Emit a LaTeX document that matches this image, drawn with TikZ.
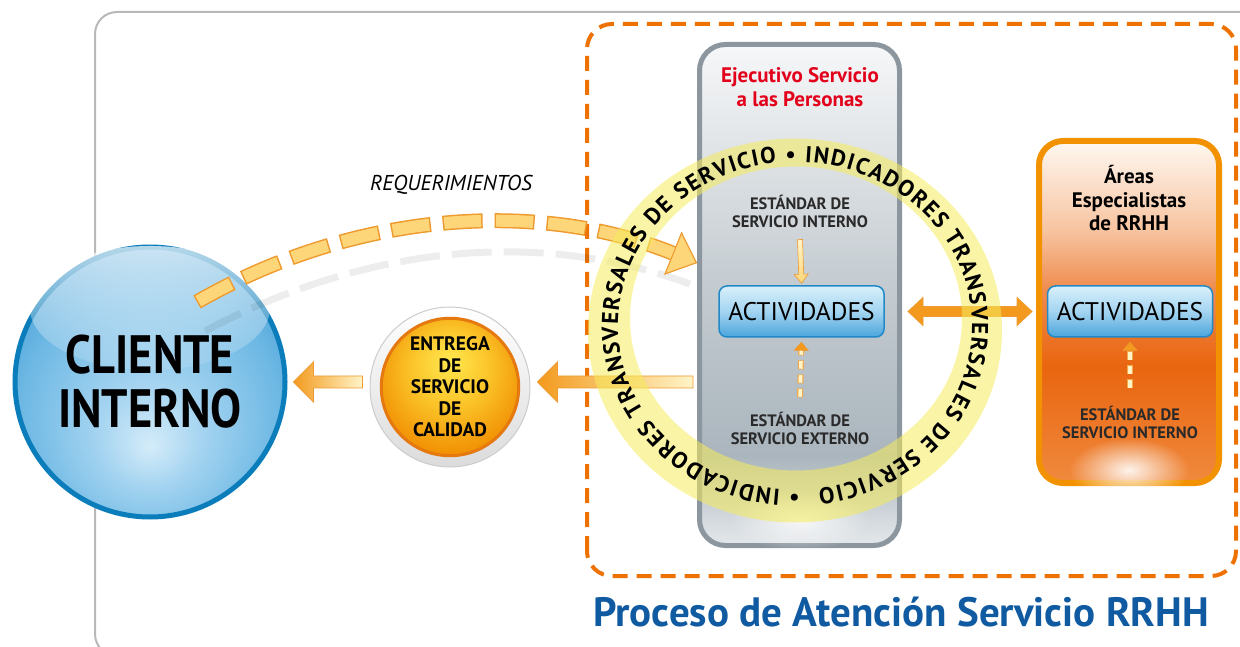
\documentclass[tikz,border=0pt]{standalone}
\usepackage{fontspec}
\setmainfont{PT Sans}
\newfontfamily\narrowsans[FakeStretch=0.86]{PT Sans}
\usetikzlibrary{calc,arrows.meta,decorations.text,fadings}

\definecolor{framegray}{HTML}{B8B8B8}
\definecolor{frameorange}{HTML}{EE7203}
\definecolor{ejeborder}{HTML}{8C969E}
\definecolor{ejetop}{HTML}{F6F7F8}
\definecolor{ejemid}{HTML}{C6CDD2}
\definecolor{ejelow}{HTML}{AAB5BD}
\definecolor{ejebot}{HTML}{E4E8EB}
\definecolor{ejered}{HTML}{E2001A}
\definecolor{areborder}{HTML}{F39200}
\definecolor{aretop}{HTML}{FFF8F1}
\definecolor{arepeach}{HTML}{F7C4A0}
\definecolor{areorange}{HTML}{EF8A4C}
\definecolor{aremid}{HTML}{E9650F}
\definecolor{arebot}{HTML}{F08A3E}
\definecolor{actborder}{HTML}{2189C8}
\definecolor{acttop}{HTML}{D9F0FB}
\definecolor{actmid}{HTML}{A3D4F1}
\definecolor{actbot}{HTML}{4BA5DC}
\definecolor{cliborder}{HTML}{0B7DBB}
\definecolor{clilight}{HTML}{D4ECF9}
\definecolor{clisoft}{HTML}{A3D3F0}
\definecolor{climid}{HTML}{6DB8E4}
\definecolor{clidark}{HTML}{3493CF}
\definecolor{entlight}{HTML}{FFE84F}
\definecolor{entmid}{HTML}{FBC52A}
\definecolor{entdark}{HTML}{F08C00}
\definecolor{entborder}{HTML}{E5780F}
\definecolor{arrowtip}{HTML}{F39A1E}
\definecolor{arrowtail}{HTML}{FFF4C8}
\definecolor{arrowline}{HTML}{EE9A2E}
\definecolor{dashfill}{HTML}{FDD67A}
\definecolor{ringyellow}{HTML}{F6EC5C}
\definecolor{labelgray}{HTML}{2A2A2A}
\definecolor{titleblue}{HTML}{0F5AA0}

\pgfdeclareverticalshading{ejeshade}{100bp}{color(0bp)=(ejebot); color(25bp)=(ejebot); color(34bp)=(ejelow); color(52bp)=(ejemid); color(75bp)=(ejetop); color(100bp)=(ejetop)}
\pgfdeclareverticalshading{areshade}{100bp}{color(0bp)=(arebot); color(25bp)=(arebot); color(42bp)=(aremid); color(53bp)=(areorange); color(62bp)=(arepeach); color(75bp)=(aretop); color(100bp)=(aretop)}
\pgfdeclareradialshading{clishade}{\pgfpoint{0bp}{-12bp}}{color(0bp)=(clilight); color(10bp)=(clisoft); color(24bp)=(climid); color(36bp)=(clidark); color(50bp)=(clidark)}
\pgfdeclareradialshading{entshade}{\pgfpoint{0bp}{10bp}}{color(0bp)=(entlight); color(14bp)=(entmid); color(30bp)=(entdark); color(50bp)=(entdark)}
\tikzfading[name=glossfade, top color=transparent!30, bottom color=transparent!90]
\tikzfading[name=glowfade, inner color=transparent!0, outer color=transparent!100]

\newcommand\ringfont{\fontsize{23}{23}\selectfont\bfseries}

\tikzset{
  arrow dims/.code n args={3}{\def\shaftw{#1}\def\headw{#2}\def\headl{#3}},
  block arrow/.style={to path={
    let \p1=(\tikztostart), \p2=(\tikztotarget),
        \n1={veclen(\x2-\x1,\y2-\y1)}, \n2={atan2(\y2-\y1,\x2-\x1)} in
    ($(\p1)+(\n2+90:\shaftw)$)
    -- ($(\p1)+(\n2:\n1-\headl)+(\n2+90:\shaftw)$)
    -- ($(\p1)+(\n2:\n1-\headl)+(\n2+90:\headw)$)
    -- (\p2)
    -- ($(\p1)+(\n2:\n1-\headl)+(\n2-90:\headw)$)
    -- ($(\p1)+(\n2:\n1-\headl)+(\n2-90:\shaftw)$)
    -- ($(\p1)+(\n2-90:\shaftw)$) -- cycle}},
  double block arrow/.style={to path={
    let \p1=(\tikztostart), \p2=(\tikztotarget),
        \n1={veclen(\x2-\x1,\y2-\y1)}, \n2={atan2(\y2-\y1,\x2-\x1)} in
    (\p1)
    -- ($(\p1)+(\n2:\headl)+(\n2+90:\headw)$)
    -- ($(\p1)+(\n2:\headl)+(\n2+90:\shaftw)$)
    -- ($(\p1)+(\n2:\n1-\headl)+(\n2+90:\shaftw)$)
    -- ($(\p1)+(\n2:\n1-\headl)+(\n2+90:\headw)$)
    -- (\p2)
    -- ($(\p1)+(\n2:\n1-\headl)+(\n2-90:\headw)$)
    -- ($(\p1)+(\n2:\n1-\headl)+(\n2-90:\shaftw)$)
    -- ($(\p1)+(\n2:\headl)+(\n2-90:\shaftw)$)
    -- ($(\p1)+(\n2:\headl)+(\n2-90:\headw)$) -- cycle}},
}

\begin{document}
\begin{tikzpicture}[x=1pt,y=1pt,
  stdtext/.style={align=center, text=labelgray, font=\bfseries\fontsize{16.5}{18.5}\selectfont},
  actbox/.style={draw=actborder, line width=1.5pt, rounded corners=8pt, minimum width=165pt, minimum height=51pt,
    top color=acttop, bottom color=actbot, middle color=actmid, font=\fontsize{25.5}{26}\selectfont},
  fatarrow/.style={arrow dims={6}{20}{20}, draw=arrowline, line width=0.8pt, left color=arrowtip, right color=arrowtail},
  thinarrow/.style={arrow dims={2.5}{7}{9}, draw=arrowline, line width=0.6pt, top color=arrowtail, bottom color=dashfill},
  dashout/.style={line width=6pt, draw=arrowline!85, dash pattern=on 9pt off 5pt,
    -{Triangle[width=15pt,length=9pt,line width=0.6pt,fill=arrowtip,color=arrowline]}},
  dashin/.style={line width=3.6pt, draw=arrowtail, dash pattern=on 7.6pt off 6.4pt, dash phase=13.3pt, shorten >=9pt},
  reqout/.style={line width=15pt, draw=arrowline, dash pattern=on 40pt off 12pt,
    -{Triangle[width=46pt,length=26pt,line width=1pt,fill=dashfill,color=arrowline]}},
  reqin/.style={line width=12pt, draw=dashfill, dash pattern=on 37pt off 15pt, dash phase=50.5pt,
    -{Triangle[width=46pt,length=26pt,line width=1pt,fill=dashfill,color=arrowline]}},
]
\useasboundingbox (0,0) rectangle (1240,646);

% frames
\draw[framegray, line width=2pt, rounded corners=22pt] (95,-10) rectangle (1300,634);
\draw[frameorange, line width=4pt, dash pattern=on 15pt off 9pt, rounded corners=25pt] (587,70) rectangle (1236,622);

% ejecutivo column
\node[draw=ejeborder, line width=5pt, rounded corners=26pt, minimum width=200pt, minimum height=501pt,
  shade, shading=ejeshade] (eje) at (799.5,351) {};
\fill[white, path fading=glowfade, opacity=0.8] (800,126) ellipse [x radius=70, y radius=30];
\node[align=center, text=ejered, font=\bfseries\fontsize{21}{24}\selectfont] (ejetit) at (800,559) {Ejecutivo Servicio\\a las Personas};
\node[stdtext] (esti) at (800,434.5) {ESTÁNDAR DE\\SERVICIO INTERNO};
\node[actbox] (act1) at (801.5,334.5) {ACTIVIDADES};
\node[stdtext] (este) at (800,217.5) {ESTÁNDAR DE\\SERVICIO EXTERNO};

% areas especialistas
\node[draw=areborder, line width=6pt, rounded corners=24pt, minimum width=180pt, minimum height=342pt,
  shade, shading=areshade] (are) at (1129,334) {};
\fill[white, path fading=glowfade, opacity=0.9] (1129,176) ellipse [x radius=60, y radius=32];
\node[align=center, text=black, font=\bfseries\fontsize{21}{23.5}\selectfont] (aretit) at (1129,447.5) {Áreas\\Especialistas\\de RRHH};
\node[actbox] (act2) at (1130,334.5) {ACTIVIDADES};
\node[stdtext] (esti2) at (1130,223.5) {ESTÁNDAR DE\\SERVICIO INTERNO};

% cliente y entrega
\node[circle, draw=cliborder, line width=5pt, minimum size=270pt, shade, shading=clishade] (cli) at (150,264) {};
\fill[white, path fading=glossfade] (150,338) ellipse [x radius=120, y radius=62];
\node[align=center, font=\narrowsans\bfseries\fontsize{54}{54}\selectfont] (clitxt) at (cli) {CLIENTE\\INTERNO};
\node[circle, draw=black!20, line width=1pt, minimum size=160pt, top color=white, bottom color=black!14] (ent) at (450,259) {};
\node[circle, draw=entborder, line width=3pt, minimum size=132pt, shade, shading=entshade, align=center,
  font=\bfseries\fontsize{19.5}{21.5}\selectfont] (entin) at (ent) {ENTREGA\\DE\\SERVICIO\\DE\\CALIDAD};

% flechas
\path[fatarrow] ([xshift=-4pt]eje.west |- cli) to[block arrow] ([xshift=7pt]ent.east |- cli);
\path[fatarrow] ([xshift=-7pt]ent.west |- cli) to[block arrow] ([xshift=6pt]cli.east);
\path[fatarrow, arrow dims={5}{14}{15}, left color=arrowtip, middle color=arrowtail, right color=arrowtip]
  ([xshift=6pt]eje.east |- act1) to[double block arrow] ([xshift=-4pt]are.west |- act1);
\path[thinarrow] ([yshift=-8pt]esti.south) to[block arrow] ([yshift=2pt]act1.north);
\draw[dashout] ([yshift=11pt]este.north) -- ([yshift=-4pt]act1.south);
\draw[dashin] ([yshift=11pt]este.north) -- ([yshift=-4pt]act1.south);
\draw[dashout] ([yshift=14pt]esti2.north) -- ([yshift=-4pt]act2.south);
\draw[dashin] ([yshift=14pt]esti2.north) -- ([yshift=-4pt]act2.south);

% requerimientos
\coordinate (reqtail) at (197,344);
\coordinate (reqtip) at ([yshift=32pt]eje.west);
\draw[black, opacity=0.07, line width=7pt, dash pattern=on 40pt off 12pt] (205,315) to[out=28, in=160, looseness=0.9] (690,362);
\draw[reqout] (reqtail) to[out=30, in=158, looseness=0.9] (reqtip);
\draw[reqin] (reqtail) to[out=30, in=158, looseness=0.9] (reqtip);
\node[font=\itshape\fontsize{21.5}{21.5}\selectfont] (req) at (451,461) {REQUERIMIENTOS};

% anillo de indicadores
\fill[ringyellow, opacity=0.55, even odd rule] (795,315.5) ellipse [x radius=207, y radius=192]
  (796,327.5) ellipse [x radius=166, y radius=152];
\path[decorate, decoration={text along path, text align=fit to path,
  text={|\ringfont|• INDICADORES TRANSVERSALES DE SERVICIO • INDICADORES TRANSVERSALES DE SERVICIO}}]
  (795,320) ++(-88.5:177 and 164) arc[start angle=-88.5, end angle=-442.5, x radius=177, y radius=164];

\node[text=titleblue, font=\bfseries\fontsize{41}{41}\selectfont] (title) at (901,34) {Proceso de Atención Servicio RRHH};
\end{tikzpicture}
\end{document}
